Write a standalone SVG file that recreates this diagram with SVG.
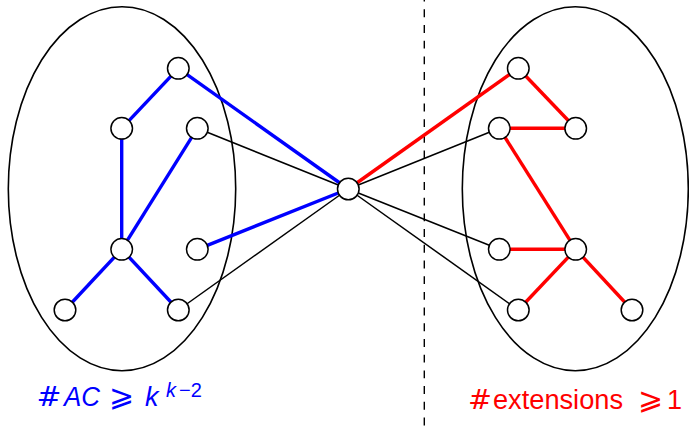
<svg xmlns="http://www.w3.org/2000/svg" width="689" height="430" viewBox="0 0 689 430">
<style>
.ell{fill:none;stroke:#000;stroke-width:1.6}
.n{fill:#fff;stroke:#000;stroke-width:1.5}
.k{stroke:#000;stroke-width:1.5;fill:none}
.b{stroke:#0000ff;stroke-width:3.4;fill:none}
.r{stroke:#ff0000;stroke-width:3.4;fill:none}
.t{font-family:"Liberation Sans",Arial,sans-serif;font-size:27px}
.m{font-family:"DejaVu Sans",sans-serif}
</style>
<rect width="689" height="430" fill="#fff"/>
<line x1="424.3" y1="0" x2="424.3" y2="430" stroke="#000" stroke-width="1.4" stroke-dasharray="7.9 7.8" stroke-dashoffset="6.4"/>
<g id="sets">
<ellipse class="ell" cx="122" cy="188.7" rx="113.7" ry="182"/>
<ellipse class="ell" cx="575.3" cy="188.7" rx="113" ry="182"/>
</g>
<g id="connectors">
<line class="b" x1="178.3" y1="68.3" x2="121.7" y2="128.3"/>
<line class="b" x1="121.7" y1="128.3" x2="121.7" y2="249.3"/>
<line class="b" x1="197.3" y1="128.3" x2="121.7" y2="249.3"/>
<line class="b" x1="121.7" y1="249.3" x2="65" y2="310"/>
<line class="b" x1="121.7" y1="249.3" x2="178.3" y2="310"/>
<line class="b" x1="178.3" y1="68.3" x2="348.3" y2="189"/>
<line class="b" x1="197.3" y1="249.3" x2="348.3" y2="189"/>
<line class="k" x1="197.3" y1="128.3" x2="348.3" y2="189"/>
<line class="k" x1="178.3" y1="310" x2="348.3" y2="189"/>
<line class="r" x1="348.3" y1="189" x2="518.3" y2="68.3"/>
<line class="r" x1="518.3" y1="68.3" x2="575.7" y2="128.3"/>
<line class="r" x1="499.3" y1="128.3" x2="575.7" y2="128.3"/>
<line class="r" x1="499.3" y1="128.3" x2="575.7" y2="249.3"/>
<line class="r" x1="499.3" y1="249.3" x2="575.7" y2="249.3"/>
<line class="r" x1="575.7" y1="249.3" x2="518.3" y2="310"/>
<line class="r" x1="575.7" y1="249.3" x2="632" y2="310"/>
<line class="k" x1="348.3" y1="189" x2="499.3" y2="128.3"/>
<line class="k" x1="348.3" y1="189" x2="499.3" y2="249.3"/>
<line class="k" x1="348.3" y1="189" x2="518.3" y2="310"/>
</g>
<g id="nL1"><circle class="n" cx="178.3" cy="68.3" r="10.8"/></g>
<g id="nL2"><circle class="n" cx="121.7" cy="128.3" r="10.8"/></g>
<g id="nL3"><circle class="n" cx="197.3" cy="128.3" r="10.8"/></g>
<g id="nL4"><circle class="n" cx="121.7" cy="249.3" r="10.8"/></g>
<g id="nL5"><circle class="n" cx="197.3" cy="249.3" r="10.8"/></g>
<g id="nL6"><circle class="n" cx="65" cy="310" r="10.8"/></g>
<g id="nL7"><circle class="n" cx="178.3" cy="310" r="10.8"/></g>
<g id="nC"><circle class="n" cx="348.3" cy="189" r="10.8"/></g>
<g id="nR1"><circle class="n" cx="518.3" cy="68.3" r="10.8"/></g>
<g id="nR2"><circle class="n" cx="499.3" cy="128.3" r="10.8"/></g>
<g id="nR3"><circle class="n" cx="575.7" cy="128.3" r="10.8"/></g>
<g id="nR4"><circle class="n" cx="499.3" cy="249.3" r="10.8"/></g>
<g id="nR5"><circle class="n" cx="575.7" cy="249.3" r="10.8"/></g>
<g id="nR6"><circle class="n" cx="518.3" cy="310" r="10.8"/></g>
<g id="nR7"><circle class="n" cx="632" cy="310" r="10.8"/></g>
<g id="labelL">
<text class="t" y="406" fill="#0000ff"><tspan class="m" x="36.5" textLength="25" lengthAdjust="spacingAndGlyphs">#</tspan><tspan x="64" font-style="italic" textLength="36" lengthAdjust="spacingAndGlyphs">AC</tspan><tspan class="m" x="109" font-size="30">⩾</tspan><tspan x="145" font-style="italic">k</tspan><tspan x="166" y="397" font-size="20" font-style="italic">k</tspan><tspan x="179" y="397" font-size="20">−2</tspan></text>
</g>
<g id="labelR">
<text class="t" y="408.5" fill="#ff0000"><tspan class="m" x="468" textLength="24" lengthAdjust="spacingAndGlyphs">#</tspan><tspan x="493" textLength="130" lengthAdjust="spacingAndGlyphs">extensions</tspan><tspan class="m" x="638" font-size="30">⩾</tspan><tspan x="667">1</tspan></text>
</g>
</svg>
